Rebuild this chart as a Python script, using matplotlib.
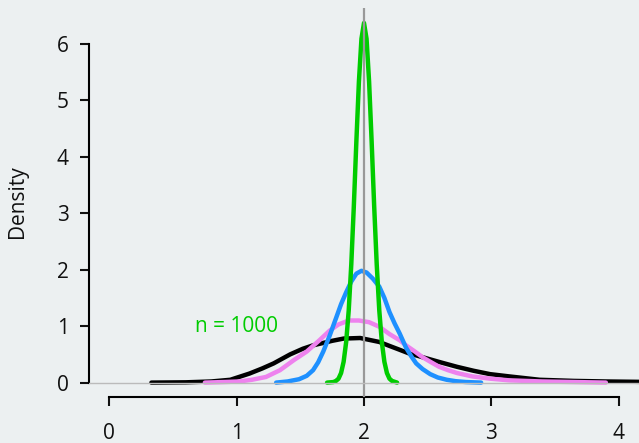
import matplotlib
matplotlib.use("Agg")
import matplotlib.pyplot as plt

plt.rcParams['font.family'] = ['Open Sans', 'DejaVu Sans']

# density curves (x, density)
black_x = [0.33, 0.60, 0.80, 0.95, 1.10, 1.20, 1.29, 1.42, 1.52, 1.60, 1.75, 1.84, 1.97,
           2.12, 2.20, 2.27, 2.35, 2.46, 2.60, 2.73, 2.86, 2.99, 3.14, 3.38, 3.65, 3.90, 4.30]
black_y = [0.00, 0.005, 0.02, 0.05, 0.16, 0.25, 0.34, 0.50, 0.60, 0.66, 0.74, 0.78, 0.79,
           0.72, 0.65, 0.59, 0.52, 0.45, 0.36, 0.28, 0.21, 0.15, 0.11, 0.05, 0.03, 0.02, 0.01]

violet_x = [0.75, 0.90, 1.02, 1.12, 1.23, 1.34, 1.45, 1.55, 1.65, 1.73, 1.80, 1.88, 1.96,
            2.04, 2.12, 2.20, 2.28, 2.33, 2.40, 2.46, 2.52, 2.59, 2.66, 2.73, 2.85, 2.99,
            3.14, 3.40, 3.65, 3.90]
violet_y = [0.00, 0.01, 0.02, 0.05, 0.10, 0.22, 0.40, 0.55, 0.75, 0.92, 1.03, 1.10, 1.10,
            1.07, 0.99, 0.86, 0.75, 0.66, 0.55, 0.45, 0.37, 0.28, 0.22, 0.17, 0.11, 0.07,
            0.04, 0.02, 0.01, 0.00]

blue_x = [1.31, 1.40, 1.49, 1.55, 1.60, 1.64, 1.68, 1.73, 1.78, 1.82, 1.86, 1.90, 1.94,
          1.98, 2.02, 2.07, 2.12, 2.16, 2.20, 2.24, 2.28, 2.33, 2.37, 2.41, 2.46, 2.52,
          2.58, 2.65, 2.72, 2.80, 2.92]
blue_y = [0.00, 0.02, 0.06, 0.12, 0.22, 0.36, 0.55, 0.83, 1.14, 1.39, 1.60, 1.79, 1.93,
          1.98, 1.95, 1.84, 1.70, 1.50, 1.25, 1.05, 0.87, 0.62, 0.47, 0.34, 0.24, 0.15,
          0.09, 0.05, 0.025, 0.01, 0.00]

green_x = [1.71, 1.76, 1.78, 1.80, 1.82, 1.84, 1.86, 1.88, 1.90, 1.92, 1.94, 1.96, 1.98,
           2.00, 2.02, 2.04, 2.06, 2.08, 2.10, 2.12, 2.14, 2.16, 2.18, 2.20, 2.22, 2.26]
green_y = [0.00, 0.01, 0.03, 0.07, 0.17, 0.37, 0.72, 1.28, 2.09, 3.12, 4.27, 5.33, 6.09,
           6.37, 6.09, 5.33, 4.27, 3.12, 2.09, 1.28, 0.72, 0.37, 0.17, 0.07, 0.03, 0.00]

true_mean = 2
label = "n = 1000"
label_pos = (1, 1)

bg = '#ECF0F1'
fs = 15
fig = plt.figure(figsize=(6.39, 4.43), dpi=100, facecolor=bg)
ax = fig.add_axes([89 / 639, 46 / 443, 550 / 639, 389 / 443])
ax.set_facecolor(bg)

lw = 3.2
ax.plot(black_x, black_y, color='black', lw=lw, solid_capstyle='round')
ax.plot(violet_x, violet_y, color='violet', lw=lw, solid_capstyle='round')
ax.plot(blue_x, blue_y, color='#1E90FF', lw=lw, solid_capstyle='round')
ax.plot(green_x, green_y, color='#00CC00', lw=lw, solid_capstyle='round')

ax.axvline(true_mean, color='#999999', lw=1.6, zorder=5)
ax.axhline(0, color='#BBBBBB', lw=1, zorder=5)

ax.text(label_pos[0], label_pos[1], label, color='#00CC00', fontsize=fs,
        ha='center', va='center')

ax.set_xlim(-0.16, 4.16)
ax.set_ylim(-0.255, 6.635)
ax.set_xticks(range(0, 5))
ax.set_yticks(range(0, 7))
for s in ['top', 'right']:
    ax.spines[s].set_visible(False)
ax.spines['left'].set_bounds(0, 6)
ax.spines['bottom'].set_bounds(0, 4)
for s in ['left', 'bottom']:
    ax.spines[s].set_linewidth(1.5)
ax.tick_params(axis='both', length=6.5, width=1.5, labelsize=fs, colors='#111111')
ax.tick_params(axis='x', pad=12)
ax.tick_params(axis='y', pad=8)

fig.text(18 / 639, 1 - 202 / 443, 'Density', rotation=90, fontsize=fs,
         ha='center', va='center', color='#111111')

fig.savefig('out.png', dpi=100, facecolor=bg)
